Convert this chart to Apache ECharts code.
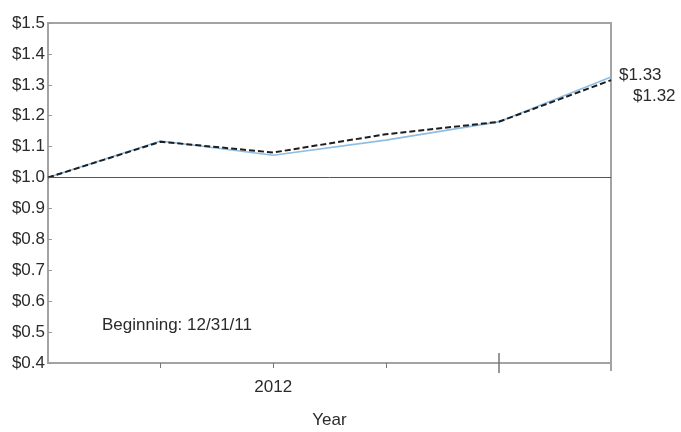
<!DOCTYPE html>
<html>
<head>
<meta charset="utf-8">
<script src="https://cdn.jsdelivr.net/npm/echarts@6/dist/echarts.min.js"></script>
<style>html,body{margin:0;padding:0;background:#fff}#c{width:681px;height:432px}</style>
</head>
<body>
<div id="c"></div>
<script>
var periods = ['P0', 'P1', 'P2', 'P3', 'P4', 'P5'];
var tickLabels = ['', '', '2012', '', '', ''];
var blueValues = [1.00, 1.118, 1.072, 1.121, 1.180, 1.325];
var dashedValues = [1.00, 1.116, 1.081, 1.140, 1.180, 1.315];
var blueEndLabel = '$1.33';
var dashedEndLabel = '$1.32';
var yTickMin = 0.4, yTickMax = 1.5, yTickStep = 0.1;
var baseline = 1.0;
var noteText = 'Beginning: 12/31/11';
var xName = 'Year';

var font = '"Liberation Sans", Arial, sans-serif';
var axisGray = '#a3a3a3';
var textColor = '#2b2b2b';

var chart = echarts.init(document.getElementById('c'), null, {renderer: 'canvas'});
var gridCfg = {left: 48, right: 70, top: 23, bottom: 69, show: true, borderColor: axisGray, borderWidth: 2,
  backgroundColor: 'transparent', containLabel: false, outerBoundsMode: 'none'};
function baseX(extra) {
  var o = {
    type: 'category', data: periods, boundaryGap: false, gridIndex: 0,
    axisLine: {show: false}, axisLabel: {show: false}, splitLine: {show: false},
    axisTick: {show: false}
  };
  for (var k in extra) o[k] = extra[k];
  return o;
}
chart.setOption({
  animation: false,
  grid: gridCfg,
  xAxis: [
    baseX({
      axisLine: {show: true, lineStyle: {color: axisGray, width: 2}},
      axisTick: {show: true, length: 5, lineStyle: {color: '#777', width: 1},
        interval: function (i) { return i >= 1 && i <= 3; }},
      axisLabel: {show: true, margin: 16, fontSize: 17, color: textColor, fontFamily: font,
        formatter: function (v, i) { return tickLabels[i]; }, interval: 0},
      name: xName, nameLocation: 'middle', nameGap: 49,
      nameTextStyle: {fontSize: 17, color: textColor, fontFamily: font}
    }),
    baseX({
      position: 'bottom',
      axisTick: {show: true, length: 10, lineStyle: {color: '#777', width: 1.5},
        interval: function (i) { return i === 4; }}
    }),
    baseX({
      position: 'bottom',
      axisTick: {show: true, inside: true, length: 10, lineStyle: {color: '#777', width: 1.5},
        interval: function (i) { return i === 4; }}
    }),
    baseX({
      position: 'bottom',
      axisTick: {show: true, length: 8, lineStyle: {color: axisGray, width: 2},
        interval: function (i) { return i === 5; }}
    })
  ],
  yAxis: {
    type: 'value', min: yTickMin, max: yTickMax, interval: yTickStep,
    axisLine: {show: true, lineStyle: {color: axisGray, width: 2}},
    axisTick: {show: true, inside: true, length: 4, lineStyle: {color: '#999'}},
    splitLine: {show: false},
    axisLabel: {margin: 3, fontSize: 17, color: textColor, fontFamily: font,
      formatter: function (v) { return '$' + v.toFixed(1); }}
  },
  series: [
    {
      type: 'line', data: blueValues, xAxisIndex: 0, symbol: 'none', z: 3,
      lineStyle: {color: '#8fbde3', width: 1.6},
      endLabel: {show: true, formatter: blueEndLabel, distance: 8, offset: [0, -2],
        fontSize: 17, color: textColor, fontFamily: font},
      markLine: {
        silent: true, symbol: 'none', animation: false,
        label: {show: false},
        lineStyle: {color: '#555', width: 1, type: 'solid'},
        data: [{yAxis: baseline}]
      }
    },
    {
      type: 'line', data: dashedValues, xAxisIndex: 0, symbol: 'none', z: 4,
      lineStyle: {color: '#1e1e1e', width: 2, type: [6, 3]},
      endLabel: {show: true, formatter: dashedEndLabel, distance: 22, offset: [0, 16],
        fontSize: 17, color: textColor, fontFamily: font}
    }
  ],
  graphic: [{
    type: 'text', left: 102, top: 317,
    style: {text: noteText, fontSize: 17, fill: textColor, fontFamily: font}
  }]
});
</script>
</body>
</html>
